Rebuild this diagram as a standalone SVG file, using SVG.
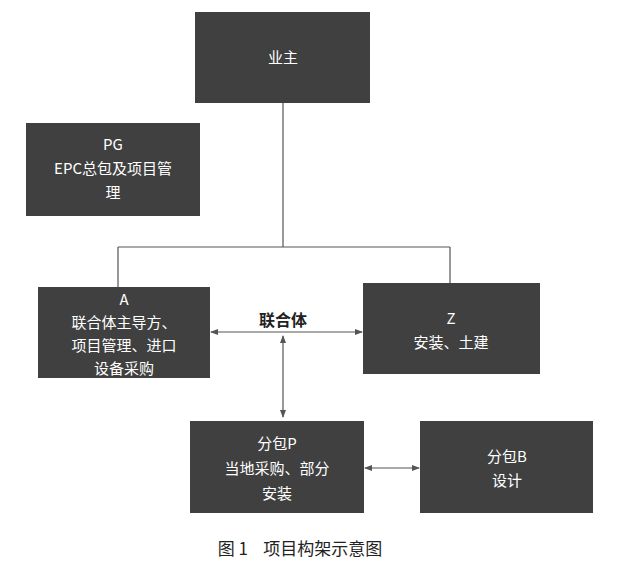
<svg xmlns="http://www.w3.org/2000/svg" width="618" height="575" viewBox="0 0 618 575">
<style>
.b{fill:#404040}
.t{fill:#fff;font-family:"Noto Sans CJK SC","Noto Sans",sans-serif;font-size:15px;text-anchor:middle}
.l{stroke:#555;stroke-width:1.2;fill:none}
</style>
<defs><marker id="a" markerWidth="8" markerHeight="8" refX="7" refY="4" orient="auto-start-reverse" markerUnits="userSpaceOnUse"><path d="M0,1 L8,4 L0,7 Z" fill="#555"/></marker></defs>
<rect width="618" height="575" fill="#fff"/>
<g id="connectors">
<path class="l" d="M283,103 V247 M118,247 H450 M118,247 V287 M450,247 V283"/>
<line class="l" x1="211" y1="332" x2="362" y2="332" marker-start="url(#a)" marker-end="url(#a)"/>
<line class="l" x1="283" y1="336" x2="283" y2="417" marker-start="url(#a)" marker-end="url(#a)"/>
<line class="l" x1="365" y1="468" x2="419" y2="468" marker-start="url(#a)" marker-end="url(#a)"/>
</g>
<g id="owner"><rect class="b" x="195" y="12" width="175" height="91"/><text class="t" x="283" y="63">业主</text></g>
<g id="pg"><rect class="b" x="26" y="123" width="174" height="93"/><text class="t" x="113" y="150">PG</text><text class="t" x="113" y="174">EPC总包及项目管</text><text class="t" x="113" y="198">理</text></g>
<g id="a"><rect class="b" x="38" y="287" width="172" height="91"/><text class="t" x="124" y="305">A</text><text class="t" x="124" y="328">联合体主导方、</text><text class="t" x="124" y="351">项目管理、进口</text><text class="t" x="124" y="374">设备采购</text></g>
<g id="z"><rect class="b" x="363" y="283" width="177" height="91"/><text class="t" x="451" y="324">Z</text><text class="t" x="451" y="348">安装、土建</text></g>
<text x="283" y="326" font-family="Noto Sans CJK SC,sans-serif" font-size="16" font-weight="bold" text-anchor="middle" fill="#222">联合体</text>
<g id="p"><rect class="b" x="190" y="421" width="174" height="92"/><text class="t" x="277" y="449">分包P</text><text class="t" x="277" y="474">当地采购、部分</text><text class="t" x="277" y="499">安装</text></g>
<g id="bb"><rect class="b" x="420" y="421" width="173" height="92"/><text class="t" x="507" y="462">分包B</text><text class="t" x="507" y="486">设计</text></g>
<text x="300" y="555" font-family="Noto Sans CJK SC,sans-serif" font-size="17" text-anchor="middle" fill="#222" xml:space="preserve">图 1    项目构架示意图</text>
</svg>
